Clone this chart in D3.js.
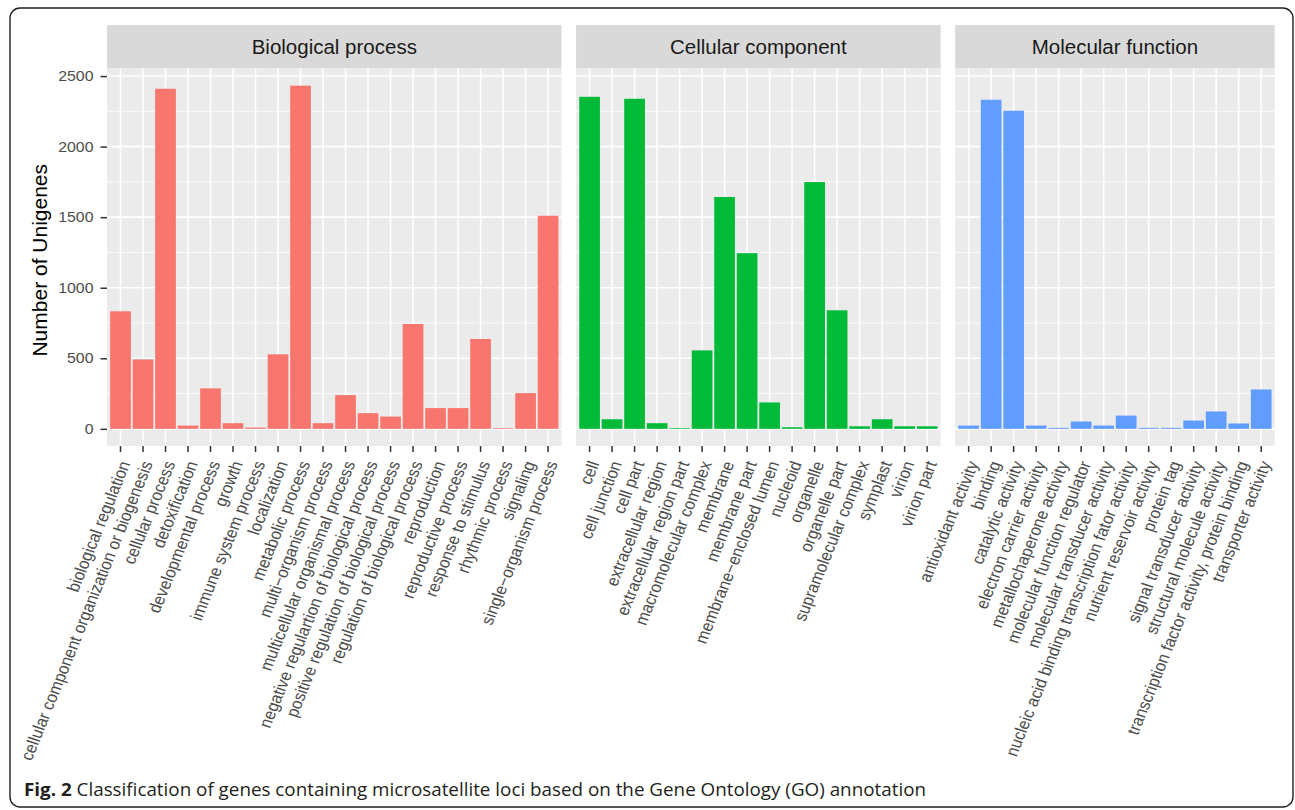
<!DOCTYPE html>
<html>
<head>
<meta charset="utf-8">
<script src="https://cdn.jsdelivr.net/npm/d3@7"></script>
<style>
  html, body { margin: 0; padding: 0; background: #ffffff; }
  svg { display: block; }
</style>
</head>
<body>
<svg id="chart" width="1295" height="810"></svg>
<script>
// ---------------- DATA ----------------
const panelTitles = ["Biological process", "Cellular component", "Molecular function"];

const bpCategories = [
  "biological regulation", "cellular component organization or biogenesis", "cellular process",
  "detoxification", "developmental process", "growth", "immune system process", "localization",
  "metabolic process", "multi\u2212organism process", "multicellular organismal process",
  "negative regulartion of biological process", "positive regulation of biological process",
  "regulation of biological process", "reproduction", "reproductive process",
  "response to stimulus", "rhythmic process", "signaling", "single\u2212organism process"
];
const bpValues = [833, 492, 2410, 23, 287, 40, 9, 528, 2432, 40, 239, 111, 87, 743, 147, 147, 637, 5, 253, 1510];

const ccCategories = [
  "cell", "cell junction", "cell part", "extracellular region", "extracellular region part",
  "macromolecular complex", "membrane", "membrane part", "membrane\u2212enclosed lumen", "nucleoid",
  "organelle", "organelle part", "supramolecular complex", "symplast", "virion", "virion part"
];
const ccValues = [2353, 68, 2339, 40, 5, 556, 1643, 1245, 187, 11, 1749, 840, 18, 68, 18, 18];

const mfCategories = [
  "antioxidant activity", "binding", "catalytic activity", "electron carrier activity",
  "metallochaperone activity", "molecular function regulator", "molecular transducer activity",
  "nucleic acid binding transcription fator activity", "nutrient reservoir activity", "protein tag",
  "signal transducer activity", "structural molecule activity",
  "transcription factor activity, protein binding", "transporter activity"
];
const mfValues = [23, 2332, 2254, 23, 7, 52, 23, 94, 7, 7, 59, 123, 38, 279];

const panelColors = ["#F8766D", "#00BA38", "#619CFF"];
const yTicks = [0, 500, 1000, 1500, 2000, 2500];
const yMinorTicks = [250, 750, 1250, 1750, 2250];
const yTitle = "Number of Unigenes";
const captionBold = "Fig. 2";
const captionText = " Classification of genes containing microsatellite loci based on the Gene Ontology (GO) annotation";

// ---------------- LAYOUT ----------------
const svg = d3.select("#chart");
const FONT = "'Liberation Sans', Arial, Helvetica, sans-serif";
const STRETCH = 1.12; // the original figure is slightly stretched horizontally

svg.append("rect").attr("x", 0).attr("y", 0).attr("width", 1295).attr("height", 810).attr("fill", "#fff");
// outer frame
svg.append("rect").attr("x", 10).attr("y", 8).attr("width", 1283).attr("height", 799)
  .attr("rx", 10).attr("ry", 10).attr("fill", "none").attr("stroke", "#231f20").attr("stroke-width", 1.4);

const panels = [
  { title: panelTitles[0], cats: bpCategories, vals: bpValues, color: panelColors[0] },
  { title: panelTitles[1], cats: ccCategories, vals: ccValues, color: panelColors[1] },
  { title: panelTitles[2], cats: mfCategories, vals: mfValues, color: panelColors[2] }
];

const plotLeft = 107, plotRight = 1274.7, gap = 14.5;
const stripTop = 25, panelTop = 68.5, panelBottom = 446;
const totalUnits = d3.sum(panels, p => p.cats.length + 0.2);
const step = (plotRight - plotLeft - gap * (panels.length - 1)) / totalUnits;

const allVals = bpValues.concat(ccValues, mfValues);
const vMax = d3.max(allVals), vMin = 0;
const span = vMax - vMin;
const y = d3.scaleLinear().domain([vMin - 0.05 * span, vMax + 0.05 * span]).range([panelBottom, panelTop]);

let x0 = plotLeft;
panels.forEach((p, pi) => {
  const w = step * (p.cats.length + 0.2);
  const x = d3.scaleBand().domain(p.cats).range([x0, x0 + w]).paddingInner(0).paddingOuter(0.1);
  const g = svg.append("g");

  // strip
  g.append("rect").attr("x", x0).attr("y", stripTop).attr("width", w).attr("height", panelTop - stripTop)
    .attr("fill", "#d9d9d9");
  g.append("text").attr("x", x0 + w / 2).attr("y", 54).attr("text-anchor", "middle")
    .attr("font-family", FONT).attr("font-size", 20.5).attr("fill", "#1a1a1a").text(p.title);

  // panel background
  g.append("rect").attr("x", x0).attr("y", panelTop).attr("width", w).attr("height", panelBottom - panelTop)
    .attr("fill", "#ebebeb");

  // grid
  g.selectAll(".ymin").data(yMinorTicks).enter().append("line")
    .attr("x1", x0).attr("x2", x0 + w).attr("y1", d => y(d)).attr("y2", d => y(d))
    .attr("stroke", "#fff").attr("stroke-width", 0.8);
  g.selectAll(".ymaj").data(yTicks).enter().append("line")
    .attr("x1", x0).attr("x2", x0 + w).attr("y1", d => y(d)).attr("y2", d => y(d))
    .attr("stroke", "#fff").attr("stroke-width", 1.6);
  g.selectAll(".xmaj").data(p.cats).enter().append("line")
    .attr("x1", d => x(d) + x.bandwidth() / 2).attr("x2", d => x(d) + x.bandwidth() / 2)
    .attr("y1", panelTop).attr("y2", panelBottom)
    .attr("stroke", "#fff").attr("stroke-width", 1.6);

  // bars
  const bw = x.bandwidth() * 0.92;
  g.selectAll(".bar").data(p.cats.map((c, i) => ({ c, v: p.vals[i] }))).enter().append("rect")
    .attr("x", d => x(d.c) + (x.bandwidth() - bw) / 2)
    .attr("width", bw)
    .attr("y", d => y(d.v))
    .attr("height", d => y(0) - y(d.v))
    .attr("fill", p.color);

  // x axis
  const ax = g.append("g").attr("transform", `translate(0,${panelBottom})`)
    .call(d3.axisBottom(x).tickSize(6).tickSizeOuter(0));
  ax.select(".domain").remove();
  ax.selectAll(".tick line").attr("stroke", "#333").attr("stroke-width", 1.5);
  ax.selectAll(".tick text")
    .attr("x", 0).attr("y", 0).attr("dy", 0)
    .attr("transform", `translate(10,17.5) scale(${STRETCH},1) rotate(-70)`)
    .attr("text-anchor", "end")
    .attr("font-family", FONT).attr("font-size", 15.6).attr("fill", "#4d4d4d");

  // y axis on first panel
  if (pi === 0) {
    const ay = svg.append("g").attr("transform", `translate(${x0},0)`)
      .call(d3.axisLeft(y).tickValues(yTicks).tickFormat(d3.format("d")).tickSize(6.5).tickSizeOuter(0));
    ay.select(".domain").remove();
    ay.selectAll(".tick line").attr("stroke", "#333").attr("stroke-width", 1.5);
    ay.selectAll(".tick text")
      .attr("x", 0)
      .attr("transform", `translate(-13.5,0) scale(${STRETCH},1)`)
      .attr("font-family", FONT).attr("font-size", 14.2).attr("fill", "#4d4d4d");
  }
  x0 += w + gap;
});

// y title
svg.append("text").attr("transform", `translate(46.5,${(panelTop + panelBottom) / 2 + 3}) rotate(-90)`)
  .attr("text-anchor", "middle").attr("font-family", FONT).attr("font-size", 21).attr("fill", "#000")
  .text(yTitle);

// caption
const cap = svg.append("text").attr("x", 24).attr("y", 796)
  .attr("font-family", "'Open Sans', 'Noto Sans', sans-serif").attr("font-size", 18.5).attr("fill", "#231f20")
  .attr("textLength", 902).attr("lengthAdjust", "spacingAndGlyphs");
cap.append("tspan").attr("font-weight", "bold").text(captionBold);
cap.append("tspan").text(captionText);
</script>
</body>
</html>
